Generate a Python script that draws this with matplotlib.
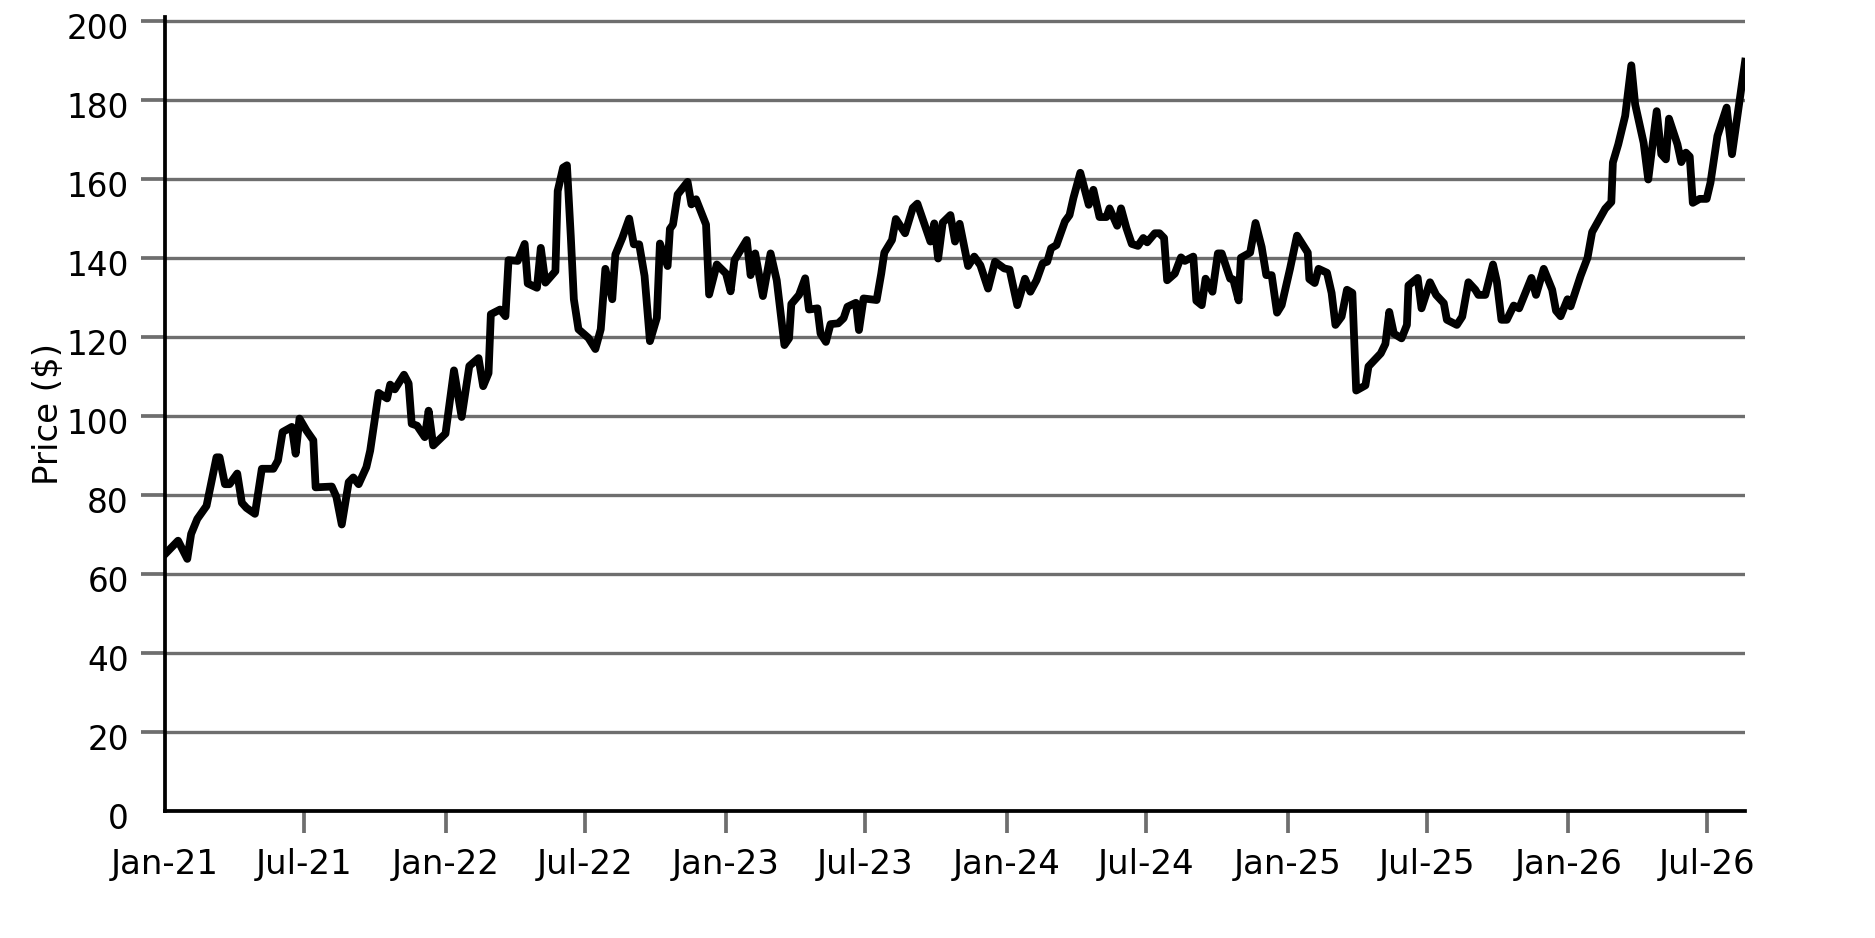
import matplotlib
matplotlib.use("Agg")
import matplotlib.pyplot as plt
import matplotlib.dates as mdates
import matplotlib.transforms as mtransforms
import pandas as pd

# turning points of the weekly price line
dates = [
    # 2021
    "2021-01-01", "2021-01-18", "2021-01-30", "2021-02-04", "2021-02-12", "2021-02-24",
    "2021-03-09", "2021-03-13", "2021-03-20", "2021-03-26", "2021-04-05", "2021-04-11",
    "2021-04-17", "2021-04-28", "2021-05-07", "2021-05-22", "2021-05-28", "2021-06-03",
    "2021-06-15", "2021-06-20", "2021-06-25", "2021-07-04", "2021-07-13", "2021-07-16",
    "2021-08-06", "2021-08-12", "2021-08-19", "2021-08-28", "2021-09-03", "2021-09-10",
    "2021-09-20", "2021-09-25", "2021-10-06", "2021-10-17", "2021-10-21", "2021-10-27",
    "2021-11-08", "2021-11-14", "2021-11-18", "2021-11-25", "2021-12-05", "2021-12-10",
    "2021-12-16",
    # 2022
    "2022-01-01", "2022-01-12", "2022-01-22", "2022-02-01", "2022-02-13", "2022-02-19",
    "2022-02-26", "2022-03-01", "2022-03-13", "2022-03-20", "2022-03-24", "2022-04-05",
    "2022-04-14", "2022-04-18", "2022-04-30", "2022-05-05", "2022-05-11", "2022-05-24",
    "2022-05-27", "2022-06-03", "2022-06-08", "2022-06-13", "2022-06-17", "2022-06-23",
    "2022-07-06", "2022-07-15", "2022-07-22", "2022-07-28", "2022-08-06", "2022-08-10",
    "2022-08-19", "2022-08-28", "2022-09-03", "2022-09-10", "2022-09-17", "2022-09-24",
    "2022-10-03", "2022-10-07", "2022-10-17", "2022-10-20", "2022-10-24", "2022-10-30",
    "2022-11-12", "2022-11-17", "2022-11-23", "2022-12-06", "2022-12-10", "2022-12-20",
    # 2023
    "2023-01-01", "2023-01-07", "2023-01-12", "2023-01-28", "2023-02-02", "2023-02-08",
    "2023-02-18", "2023-02-28", "2023-03-08", "2023-03-18", "2023-03-24", "2023-03-27",
    "2023-04-06", "2023-04-14", "2023-04-19", "2023-04-30", "2023-05-04", "2023-05-11",
    "2023-05-17", "2023-05-27", "2023-06-03", "2023-06-08", "2023-06-19", "2023-06-23",
    "2023-06-29", "2023-07-16", "2023-07-22", "2023-07-26", "2023-08-05", "2023-08-10",
    "2023-08-22", "2023-09-01", "2023-09-07", "2023-09-17", "2023-09-24", "2023-09-29",
    "2023-10-04", "2023-10-10", "2023-10-20", "2023-10-26", "2023-11-01", "2023-11-12",
    "2023-11-20", "2023-11-28", "2023-12-08", "2023-12-17", "2023-12-29",
    # 2024
    "2024-01-05", "2024-01-15", "2024-01-25", "2024-02-01", "2024-02-09", "2024-02-17",
    "2024-02-23", "2024-02-28", "2024-03-06", "2024-03-17", "2024-03-23", "2024-03-28",
    "2024-04-06", "2024-04-17", "2024-04-23", "2024-05-01", "2024-05-10", "2024-05-14",
    "2024-05-24", "2024-05-29", "2024-06-05", "2024-06-12", "2024-06-20", "2024-06-27",
    "2024-07-02", "2024-07-12", "2024-07-18", "2024-07-24", "2024-07-28", "2024-08-07",
    "2024-08-15", "2024-08-20", "2024-08-31", "2024-09-04", "2024-09-11", "2024-09-16",
    "2024-09-25", "2024-10-02", "2024-10-07", "2024-10-18", "2024-10-22", "2024-10-29",
    "2024-11-01", "2024-11-13", "2024-11-20", "2024-11-28", "2024-12-04", "2024-12-11",
    "2024-12-18", "2024-12-24",
    # 2025
    "2025-01-04", "2025-01-13", "2025-01-27", "2025-01-29", "2025-02-05", "2025-02-10",
    "2025-02-21", "2025-02-27", "2025-03-04", "2025-03-12", "2025-03-19", "2025-03-26",
    "2025-03-31", "2025-04-12", "2025-04-16", "2025-05-02", "2025-05-08", "2025-05-13",
    "2025-05-19", "2025-05-29", "2025-06-05", "2025-06-07", "2025-06-19", "2025-06-24",
    "2025-07-05", "2025-07-13", "2025-07-23", "2025-07-27", "2025-08-09", "2025-08-16",
    "2025-08-24", "2025-09-02", "2025-09-06", "2025-09-15", "2025-09-25", "2025-09-30",
    "2025-10-06", "2025-10-13", "2025-10-22", "2025-10-29", "2025-11-05", "2025-11-14",
    "2025-11-20", "2025-11-30", "2025-12-11", "2025-12-16", "2025-12-22", "2025-12-31",
    # 2026
    "2026-01-04", "2026-01-17", "2026-01-26", "2026-02-01", "2026-02-09", "2026-02-18",
    "2026-02-26", "2026-02-28", "2026-03-07", "2026-03-16", "2026-03-24", "2026-03-29",
    "2026-04-09", "2026-04-15", "2026-04-26", "2026-05-02", "2026-05-08", "2026-05-12",
    "2026-05-23", "2026-05-28", "2026-06-03", "2026-06-08", "2026-06-12", "2026-06-21",
    "2026-06-30", "2026-07-05", "2026-07-14", "2026-07-26", "2026-08-02", "2026-08-19",
]

prices = [
    # 2021
    65.0, 68.4, 63.8, 70.1, 73.9, 77.2,
    89.5, 89.5, 82.7, 82.7, 85.4, 78.0,
    76.7, 75.2, 86.6, 86.6, 88.7, 95.9,
    97.2, 90.4, 99.3, 96.3, 93.8, 81.9,
    82.1, 79.5, 72.5, 83.2, 84.4, 82.7,
    87.0, 91.2, 105.8, 104.4, 107.9, 106.7,
    110.4, 108.2, 98.0, 97.5, 94.6, 101.3,
    92.5,
    # 2022
    95.5, 111.5, 99.7, 112.6, 114.6, 107.5,
    110.8, 125.7, 126.9, 125.2, 139.4, 139.2,
    143.5, 133.5, 132.4, 142.5, 133.7, 136.6,
    156.9, 162.8, 163.4, 145.5, 129.5, 121.9,
    119.7, 116.9, 121.9, 137.2, 129.5, 140.8,
    145.0, 149.9, 143.4, 143.4, 135.4, 118.9,
    124.8, 143.6, 137.9, 147.3, 148.4, 156.0,
    159.2, 153.5, 154.8, 148.4, 130.7, 138.3,
    # 2023
    136.0, 131.5, 139.4, 144.5, 135.6, 141.1,
    130.3, 141.1, 134.3, 117.9, 119.6, 128.3,
    130.6, 134.8, 126.9, 127.2, 120.8, 118.7,
    123.2, 123.4, 124.7, 127.6, 128.6, 121.7,
    129.7, 129.3, 136.0, 141.3, 144.5, 149.8,
    146.2, 152.6, 153.7, 148.1, 144.1, 148.7,
    139.8, 148.9, 150.8, 144.1, 148.6, 137.9,
    140.3, 138.1, 132.2, 139.0, 137.3,
    # 2024
    137.0, 128.0, 134.7, 131.4, 134.3, 138.6,
    139.0, 142.4, 143.2, 149.2, 150.8, 155.1,
    161.5, 153.4, 157.2, 150.3, 150.3, 152.5,
    148.1, 152.5, 147.5, 143.5, 143.0, 145.0,
    143.9, 146.2, 146.2, 145.0, 134.3, 136.0,
    140.1, 139.2, 140.3, 129.1, 128.0, 134.7,
    131.4, 141.1, 141.1, 134.7, 134.5, 129.2,
    140.0, 141.3, 148.8, 142.7, 135.6, 135.6,
    126.1, 128.0,
    # 2025
    137.3, 145.6, 141.3, 134.6, 133.6, 137.2,
    136.2, 131.1, 123.0, 125.1, 131.9, 131.1,
    106.4, 107.7, 112.5, 115.8, 118.2, 126.3,
    120.8, 119.6, 123.0, 133.0, 134.9, 127.2,
    133.8, 130.6, 128.5, 124.3, 123.0, 125.1,
    133.8, 131.9, 130.6, 130.6, 138.3, 134.0,
    124.3, 124.3, 127.9, 127.2, 130.6, 134.9,
    130.6, 137.2, 131.9, 126.6, 125.2, 129.5,
    # 2026
    127.7, 135.4, 140.0, 146.5, 149.3, 152.4,
    154.1, 164.1, 168.7, 175.9, 188.7, 178.8,
    169.1, 159.8, 177.1, 166.2, 164.9, 175.2,
    168.7, 164.2, 166.6, 165.6, 153.9, 154.9,
    154.9, 159.0, 170.8, 178.0, 166.2, 189.6,
]

y_ticks = list(range(0, 201, 20))
x_ticks = pd.date_range("2021-01-01", "2026-07-01", freq="6MS")

grid_grey = "#6e6e6e"
t = pd.to_datetime(dates)

fig = plt.figure(figsize=(18.75, 9.38), dpi=100)
ax = fig.add_axes([0.088, 0.1354, 0.8427, 0.8468])

ax.plot(t, prices, color="black", lw=5.6, zorder=3)

ax.set_xlim(t[0], t[-1])
ax.set_ylim(0, 201)
ax.set_yticks(y_ticks)
ax.set_xticks(x_ticks)
ax.xaxis.set_major_formatter(mdates.DateFormatter("%b-%y"))

ax.yaxis.grid(True, color=grid_grey, lw=2.4)
ax.set_axisbelow(True)

for side in ["top", "right"]:
    ax.spines[side].set_visible(False)
for side in ["left", "bottom"]:
    ax.spines[side].set_color("black")
    ax.spines[side].set_linewidth(2.7)
    ax.spines[side].set_zorder(4)

ax.tick_params(axis="both", color=grid_grey, width=2.7, labelcolor="black")
ax.tick_params(axis="y", length=17.5, pad=8.6, labelsize=23.5)
ax.tick_params(axis="x", length=16, pad=11, labelsize=24.5)

# no tick mark at the corner (Jan-21 / 0)
ax.xaxis.get_major_ticks()[0].tick1line.set_visible(False)
ax.yaxis.get_major_ticks()[0].tick1line.set_visible(False)

# y labels sit slightly below their grid lines
shift = mtransforms.ScaledTranslation(0, -5 / 100, fig.dpi_scale_trans)
for lab in ax.get_yticklabels():
    lab.set_transform(lab.get_transform() + shift)

ax.set_ylabel("Price ($)", fontsize=24.5, labelpad=1)

fig.savefig("out.png", dpi=100)
